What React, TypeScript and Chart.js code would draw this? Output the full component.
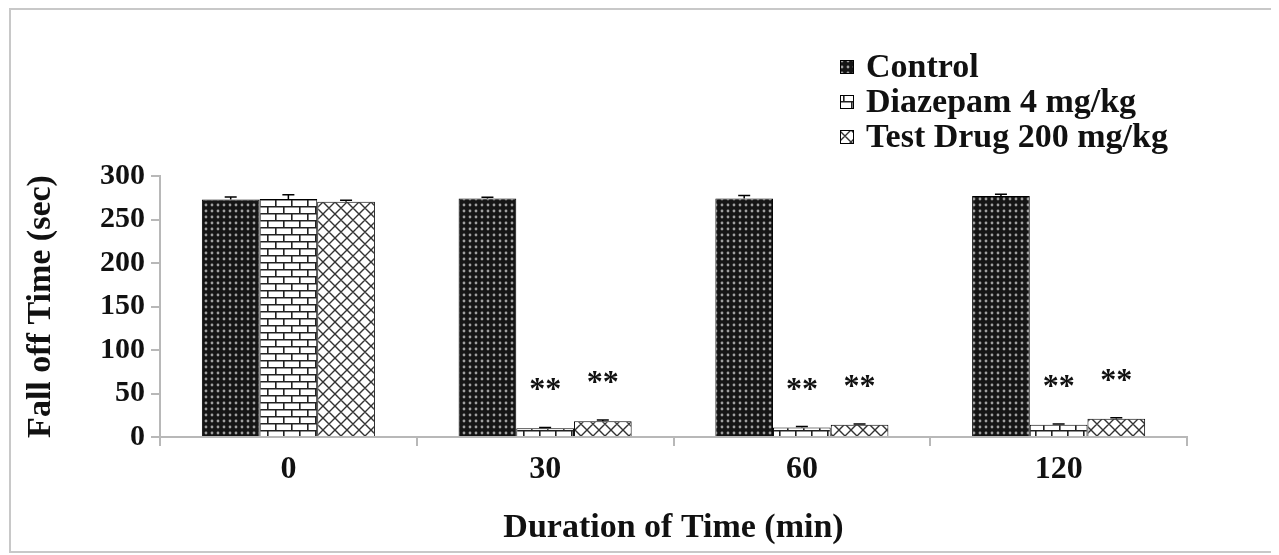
import React, { useEffect, useRef } from 'react';
import { Chart, registerables } from 'chart.js';

Chart.register(...registerables);

const categories = ['0', '30', '60', '120'];
const seriesNames = ['Control', 'Diazepam 4 mg/kg', 'Test Drug 200 mg/kg'];
const controlValues = [273, 274, 274, 277];
const controlErrors = [3, 1.5, 3.5, 2];
const diazepamValues = [273.5, 10, 11, 14];
const diazepamErrors = [5, 1, 1, 1];
const testDrugValues = [270.5, 18, 14, 21];
const testDrugErrors = [1.5, 1.5, 1, 1];
const controlMarks = ['', '', '', ''];
const diazepamMarks = ['', '**', '**', '**'];
const testDrugMarks = ['', '**', '**', '**'];
const yMin = 0;
const yMax = 300;
const yStep = 50;
const xTitle = 'Duration of Time (min)';
const yTitle = 'Fall off Time (sec)';

const FONT = '"Liberation Serif", "Times New Roman", serif';

function makePattern(kind: string): CanvasPattern | string {
  const c = document.createElement('canvas');
  const g = c.getContext('2d');
  if (!g) return '#333';
  if (kind === 'dots') {
    c.width = 6; c.height = 6;
    g.fillStyle = '#151515';
    g.fillRect(0, 0, 6, 6);
    g.fillStyle = '#a0a0a0';
    g.beginPath();
    g.arc(3, 3, 1.4, 0, Math.PI * 2);
    g.fill();
  } else if (kind === 'brick') {
    c.width = 16; c.height = 14;
    g.fillStyle = '#ffffff';
    g.fillRect(0, 0, 16, 14);
    g.strokeStyle = '#222';
    g.lineWidth = 1.6;
    g.beginPath();
    g.moveTo(0, 0.8); g.lineTo(16, 0.8);
    g.moveTo(0, 7.8); g.lineTo(16, 7.8);
    g.moveTo(0.8, 0); g.lineTo(0.8, 7.8);
    g.moveTo(8.8, 7.8); g.lineTo(8.8, 14);
    g.stroke();
  } else {
    c.width = 12; c.height = 12;
    g.fillStyle = '#ffffff';
    g.fillRect(0, 0, 12, 12);
    g.strokeStyle = '#333';
    g.lineWidth = 1.4;
    g.beginPath();
    g.moveTo(0, 0); g.lineTo(12, 12);
    g.moveTo(12, 0); g.lineTo(0, 12);
    g.moveTo(-6, 6); g.lineTo(6, 18);
    g.moveTo(6, -6); g.lineTo(18, 6);
    g.moveTo(6, -6); g.lineTo(-6, 6);
    g.moveTo(18, 6); g.lineTo(6, 18);
    g.stroke();
  }
  const p = g.createPattern(c, 'repeat');
  return p || '#333';
}

const overlayPlugin = {
  id: 'overlay',
  afterDatasetsDraw(chart: any) {
    const ctx = chart.ctx;
    const ys = chart.scales.y;
    chart.data.datasets.forEach((ds: any, di: number) => {
      const meta = chart.getDatasetMeta(di);
      meta.data.forEach((bar: any, i: number) => {
        const v = ds.data[i];
        const e = ds.errors[i];
        const yTop = ys.getPixelForValue(v);
        const yErr = ys.getPixelForValue(v + e);
        ctx.save();
        ctx.strokeStyle = '#000';
        ctx.lineWidth = 1.5;
        ctx.beginPath();
        ctx.moveTo(bar.x, yTop);
        ctx.lineTo(bar.x, yErr);
        ctx.moveTo(bar.x - 6, yErr);
        ctx.lineTo(bar.x + 6, yErr);
        ctx.stroke();
        if (ds.marks && ds.marks[i]) {
          ctx.font = `bold 32px ${FONT}`;
          ctx.textAlign = 'center';
          ctx.textBaseline = 'alphabetic';
          ctx.fillStyle = '#111';
          ctx.fillText(ds.marks[i], bar.x, yErr - 45 + 17);
        }
        ctx.restore();
      });
    });
  },
  afterDraw(chart: any) {
    const ctx = chart.ctx;
    ctx.save();
    chart.data.datasets.forEach((ds: any, i: number) => {
      const cy = 57 + 35 * i;
      ctx.fillStyle = ds.backgroundColor;
      ctx.fillRect(829, cy - 7, 14, 14);
      ctx.strokeStyle = '#000';
      ctx.lineWidth = 1;
      ctx.strokeRect(829.5, cy - 6.5, 13, 13);
      ctx.fillStyle = '#111';
      ctx.font = `bold 34px ${FONT}`;
      ctx.textAlign = 'left';
      ctx.textBaseline = 'middle';
      ctx.fillText(ds.label, 855, cy + 1);
    });
    ctx.restore();
  },
};

export default function App() {
  const ref = useRef<HTMLCanvasElement | null>(null);
  useEffect(() => {
    if (!ref.current) return;
    const chart = new Chart(ref.current, {
      type: 'bar',
      data: {
        labels: categories,
        datasets: [
          { label: seriesNames[0], data: controlValues, errors: controlErrors, marks: controlMarks, backgroundColor: makePattern('dots'), borderColor: '#000', borderWidth: 1 } as any,
          { label: seriesNames[1], data: diazepamValues, errors: diazepamErrors, marks: diazepamMarks, backgroundColor: makePattern('brick'), borderColor: '#000', borderWidth: 1 } as any,
          { label: seriesNames[2], data: testDrugValues, errors: testDrugErrors, marks: testDrugMarks, backgroundColor: makePattern('cross'), borderColor: '#000', borderWidth: 1 } as any,
        ],
      },
      options: {
        animation: false,
        responsive: true,
        maintainAspectRatio: false,
        layout: { padding: { left: 0, right: 85, top: 166, bottom: 0 } },
        datasets: { bar: { categoryPercentage: 0.674, barPercentage: 1.0 } },
        plugins: { legend: { display: false }, tooltip: { enabled: false } },
        scales: {
          x: {
            offset: true,
            grid: { offset: true, drawOnChartArea: false, drawTicks: true, tickLength: 9, color: '#b8b8b8', lineWidth: 2 },
            border: { color: '#b8b8b8', width: 2 },
            ticks: { color: '#111', font: { family: FONT, size: 32, weight: 'bold' }, padding: 5 },
            title: { display: true, text: xTitle, color: '#111', font: { family: FONT, size: 34, weight: 'bold' }, padding: { top: 0, bottom: 2 } },
            afterFit: (s: any) => { s.height = 114; },
          },
          y: {
            min: yMin,
            max: yMax,
            ticks: { stepSize: yStep, color: '#111', font: { family: FONT, size: 30, weight: 'bold' }, padding: 6 },
            grid: { drawOnChartArea: false, drawTicks: true, tickLength: 9, color: '#b8b8b8', lineWidth: 2 },
            border: { color: '#b8b8b8', width: 2 },
            title: { display: true, text: yTitle, color: '#111', font: { family: FONT, size: 34, weight: 'bold' }, padding: { top: 10, bottom: 0 } },
            afterFit: (s: any) => { s.width = 149; },
          },
        },
      } as any,
      plugins: [overlayPlugin],
    });
    return () => chart.destroy();
  }, []);
  return (
    <div style={{ width: 1265, height: 545, border: '2px solid #c8c8c8', boxSizing: 'border-box', marginLeft: 1, background: '#fff' }}>
      <div style={{ position: 'relative', width: 1261, height: 541 }}>
        <canvas ref={ref} />
      </div>
    </div>
  );
}
